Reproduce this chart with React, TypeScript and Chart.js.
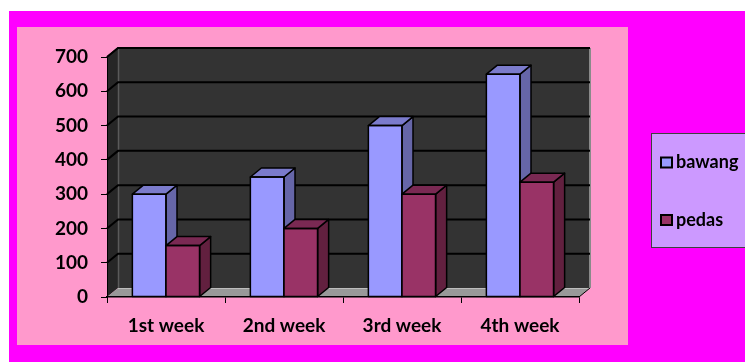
import React, { useEffect, useRef } from "react";
import { Chart, registerables } from "chart.js";
Chart.register(...registerables);

const categories = ["1st week", "2nd week", "3rd week", "4th week"];
const seriesNames = ["bawang", "pedas"];
const bawang = [300, 350, 500, 650];
const pedas = [150, 200, 300, 335];
const yMin = 0;
const yMax = 700;
const yStep = 100;

const W = 745;
const H = 362;
const DX = 11;
const DY = -9;
const FONT = "Lato, 'Open Sans', sans-serif";

const faceColors = [
  { front: "#9999FF", side: "#6666A8", top: "#7B7BCC" },
  { front: "#993366", side: "#62203F", top: "#7A2953" },
];

function poly(ctx: CanvasRenderingContext2D, pts: number[][], fill: string, stroke?: string, lw = 1) {
  ctx.beginPath();
  ctx.moveTo(pts[0][0], pts[0][1]);
  for (let i = 1; i < pts.length; i++) ctx.lineTo(pts[i][0], pts[i][1]);
  ctx.closePath();
  ctx.fillStyle = fill;
  ctx.fill();
  if (stroke) {
    ctx.strokeStyle = stroke;
    ctx.lineWidth = lw;
    ctx.lineJoin = "round";
    ctx.stroke();
  }
}

const scenePlugin = {
  id: "scene3d",
  beforeDraw(chart: any) {
    const ctx: CanvasRenderingContext2D = chart.ctx;
    const { left, right, top, bottom } = chart.chartArea;
    const ys = chart.scales.y;
    ctx.save();
    // page backgrounds
    ctx.fillStyle = "#FFFFFF";
    ctx.fillRect(0, 0, W, H);
    ctx.fillStyle = "#FF00FF";
    ctx.fillRect(9, 11, W - 9, H - 11);
    ctx.fillStyle = "#FF99CC";
    ctx.fillRect(17, 27, 611, 318);

    // side wall
    poly(ctx, [[left, top], [left + DX, top + DY], [left + DX, bottom + DY], [left, bottom]], "#262626");
    // back wall
    poly(ctx, [[left + DX, top + DY], [right + DX, top + DY], [right + DX, bottom + DY], [left + DX, bottom + DY]], "#333333");
    // back wall edges
    ctx.strokeStyle = "#5a5a5a";
    ctx.lineWidth = 1.5;
    ctx.beginPath();
    ctx.moveTo(left + DX + 0.5, top + DY);
    ctx.lineTo(left + DX + 0.5, bottom + DY);
    ctx.stroke();
    ctx.strokeStyle = "#8a8a8a";
    ctx.lineWidth = 2;
    ctx.beginPath();
    ctx.moveTo(right + DX, top + DY);
    ctx.lineTo(right + DX, bottom + DY);
    ctx.stroke();
    ctx.strokeStyle = "#1a1a1a";
    ctx.lineWidth = 1.5;
    ctx.beginPath();
    ctx.moveTo(left, top);
    ctx.lineTo(left + DX, top + DY);
    ctx.lineTo(right + DX, top + DY);
    ctx.stroke();

    // gridlines
    ctx.strokeStyle = "#000000";
    ctx.lineWidth = 2;
    for (let v = yMin + yStep; v <= yMax; v += yStep) {
      const py = ys.getPixelForValue(v);
      ctx.beginPath();
      ctx.moveTo(left, py);
      ctx.lineTo(left + DX, py + DY);
      ctx.lineTo(right + DX, py + DY);
      ctx.stroke();
    }
    // floor
    poly(ctx, [[left, bottom], [right, bottom], [right + DX, bottom + DY], [left + DX, bottom + DY]], "#999999");
    ctx.strokeStyle = "#bdbdbd";
    ctx.lineWidth = 1;
    ctx.beginPath();
    ctx.moveTo(left + DX, bottom + DY + 0.5);
    ctx.lineTo(right + DX, bottom + DY + 0.5);
    ctx.stroke();
    ctx.strokeStyle = "#000";
    ctx.lineWidth = 1;
    ctx.beginPath();
    ctx.moveTo(right, bottom);
    ctx.lineTo(right + DX, bottom + DY);
    ctx.stroke();

    // legend
    const lx = 651, ly = 133, lw = 110, lh = 114;
    ctx.fillStyle = "#CC99FF";
    ctx.fillRect(lx, ly, lw, lh);
    ctx.strokeStyle = "#404040";
    ctx.lineWidth = 1;
    ctx.strokeRect(lx + 0.5, ly + 0.5, lw, lh);
    const rows = [162.5, 220];
    ctx.font = `bold 18px ${FONT}`;
    ctx.textBaseline = "middle";
    ctx.textAlign = "left";
    seriesNames.forEach((name, i) => {
      const cy = rows[i];
      ctx.fillStyle = faceColors[i].front;
      ctx.fillRect(661, cy - 5, 11, 10);
      ctx.strokeStyle = "#000";
      ctx.lineWidth = 2;
      ctx.strokeRect(661, cy - 5, 11, 10);
      ctx.fillStyle = "#000";
      ctx.fillText(name, 676, cy);
    });
    ctx.restore();
  },
  beforeDatasetsDraw(chart: any) {
    const ctx: CanvasRenderingContext2D = chart.ctx;
    const metas = [chart.getDatasetMeta(0), chart.getDatasetMeta(1)];
    const n = categories.length;
    ctx.save();
    for (let i = 0; i < n; i++) {
      metas.forEach((meta: any, di: number) => {
        const bar = meta.data[i];
        if (!bar) return;
        const { x, y, width, base } = bar.getProps(["x", "y", "width", "base"], true);
        const l = x - width / 2;
        const r = x + width / 2;
        const c = faceColors[di];
        bar.draw(ctx);
        poly(ctx, [[r, y], [r + DX, y + DY], [r + DX, base + DY], [r, base]], c.side, "#000", 1.5);
        poly(ctx, [[l, y], [l + DX, y + DY], [r + DX, y + DY], [r, y]], c.top, "#000", 1.5);
        ctx.strokeStyle = "#000";
        ctx.lineWidth = 1.5;
        ctx.strokeRect(l, y, width, base - y);
      });
    }
    ctx.restore();
    return false;
  },
};

export default function App() {
  const ref = useRef<HTMLCanvasElement | null>(null);
  useEffect(() => {
    if (!ref.current) return;
    const chart = new Chart(ref.current, {
      type: "bar",
      data: {
        labels: categories,
        datasets: [
          {
            label: seriesNames[0],
            data: bawang,
            backgroundColor: faceColors[0].front,
            borderColor: "#000",
            borderWidth: 0,
            categoryPercentage: 0.57,
            barPercentage: 1,
          },
          {
            label: seriesNames[1],
            data: pedas,
            backgroundColor: faceColors[1].front,
            borderColor: "#000",
            borderWidth: 0,
            categoryPercentage: 0.57,
            barPercentage: 1,
          },
        ],
      },
      options: {
        responsive: false,
        animation: false,
        devicePixelRatio: 1,
        layout: { padding: { left: 0, top: 57, right: 166, bottom: 0 } },
        plugins: { legend: { display: false }, tooltip: { enabled: false } },
        scales: {
          x: {
            offset: true,
            grid: { display: true, drawOnChartArea: false, tickLength: 6, color: "#000", lineWidth: 1, offset: true },
            border: { display: true, color: "#000", width: 1.5 },
            ticks: { color: "#000", font: { family: FONT, size: 19, weight: "bold" }, padding: 11, maxRotation: 0 },
            afterFit: (s: any) => { s.height = 65; },
          },
          y: {
            min: yMin,
            max: yMax,
            grid: { display: true, drawOnChartArea: false, tickLength: 6, color: "#000", lineWidth: 1 },
            border: { display: true, color: "#000", width: 1 },
            ticks: { stepSize: yStep, color: "#000", font: { family: FONT, size: 19, weight: "bold" }, padding: 13 },
            afterFit: (s: any) => { s.width = 107; },
          },
        },
      },
      plugins: [scenePlugin],
    });
    return () => chart.destroy();
  }, []);
  return (
    <div style={{ position: "absolute", left: 0, top: 0, width: W, height: H }}>
      <canvas ref={ref} width={W} height={H} style={{ display: "block" }} />
    </div>
  );
}
